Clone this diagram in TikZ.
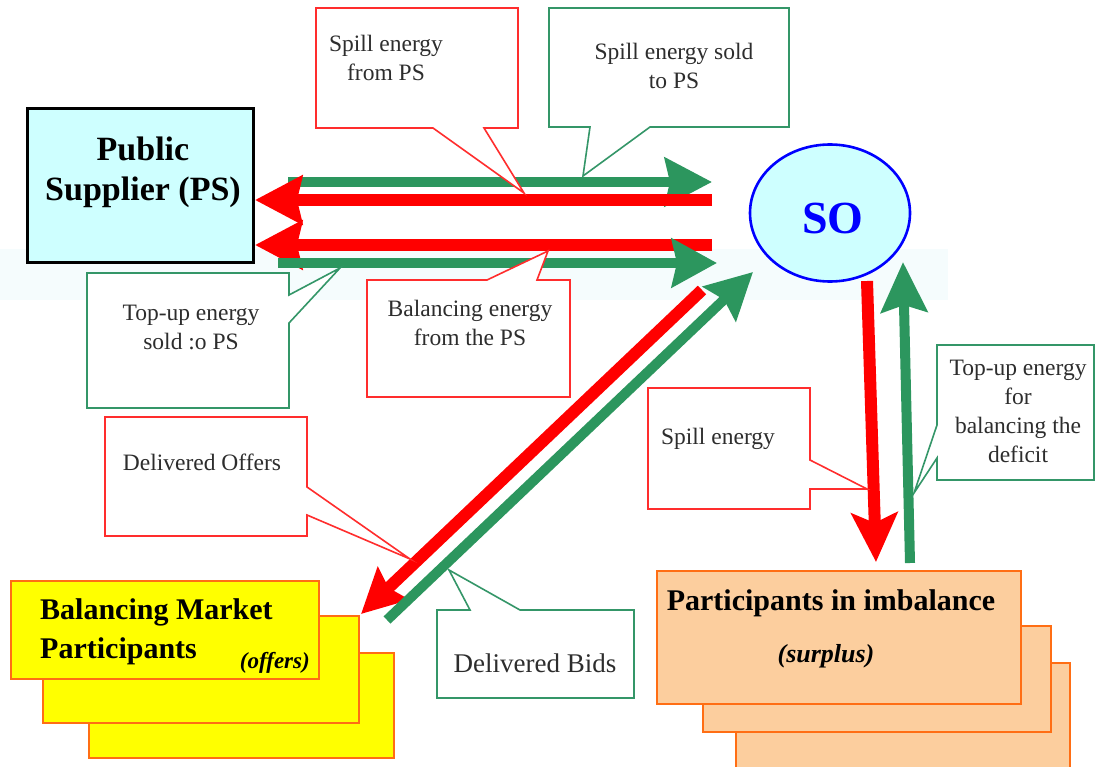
\documentclass[tikz,border=0pt]{standalone}
\usepackage{fontspec}
\setmainfont{Liberation Serif}
\usetikzlibrary{arrows.meta,shapes.geometric,calc}

\definecolor{flowred}{RGB}{255,0,0}
\definecolor{flowgreen}{RGB}{44,150,94}
\definecolor{notered}{RGB}{255,45,45}
\definecolor{notegreen}{RGB}{52,150,104}
\definecolor{pscyan}{RGB}{206,255,255}
\definecolor{soblue}{RGB}{0,0,255}
\definecolor{bmyellow}{RGB}{255,255,0}
\definecolor{edgeorange}{RGB}{255,110,20}
\definecolor{peach}{RGB}{252,206,158}
\definecolor{notetext}{RGB}{45,45,45}
\definecolor{haze}{RGB}{245,252,253}

\tikzset{
  redflow/.style={draw=flowred, line width=12pt,
    -{Stealth[length=47pt,width=48pt,inset=5pt]}},
  greenflow/.style={draw=flowgreen, line width=10pt,
    -{Stealth[length=47pt,width=48pt,inset=5pt]}},
  rednote/.style={draw=notered, line width=1.6pt, fill=white, line join=miter},
  greennote/.style={draw=notegreen, line width=1.6pt, fill=white, line join=miter},
  notetxt/.style={text=notetext, align=center, inner sep=0pt,
    font=\fontsize{23.5}{29}\selectfont},
  ybox/.style={draw=edgeorange, line width=1.8pt, fill=bmyellow, anchor=north west, inner sep=0pt},
  obox/.style={draw=edgeorange, line width=1.8pt, fill=peach, anchor=north west, inner sep=0pt},
}

\begin{document}
\begin{tikzpicture}[x=1pt,y=-1pt]
\useasboundingbox (0,0) rectangle (1097,767);
\fill[white] (0,0) rectangle (1097,767);
% faint band behind the lower arrows
\fill[haze] (0,249) rectangle (948,300);

% ---------- main blocks ----------
\fill[black!85] (29,110) rectangle (255,264);
\node[draw=black, line width=3pt, fill=pscyan, minimum width=226pt, minimum height=154pt,
      anchor=north west, inner sep=0pt] (ps) at (26,107) {};
\node[align=center, inner sep=0pt, font=\bfseries\fontsize{34}{40}\selectfont] (pstext) at (143,172)
  {Public\\Supplier (PS)};

\node[ellipse, draw=soblue, line width=2.6pt, fill=pscyan, minimum width=160pt, minimum height=137pt,
      inner sep=0pt] (so) at (830,213) {};
\node[text=soblue, inner sep=0pt, font=\bfseries\fontsize{46}{50}\selectfont] (sotext) at (833,218) {SO};

% balancing market participants (stacked cards)
\node[ybox, minimum width=305pt, minimum height=105pt] (bm3) at (88,652) {};
\node[ybox, minimum width=316pt, minimum height=107pt] (bm2) at (42,615) {};
\node[ybox, minimum width=308pt, minimum height=98pt] (bm1) at (10,580) {};
\node[anchor=west, align=left, inner sep=0pt, font=\bfseries\fontsize{30}{39}\selectfont] (bmtext) at (40,632)
  {Balancing Market\\Participants};
\node[anchor=east, inner sep=0pt, font=\bfseries\itshape\fontsize{23}{26}\selectfont] (bmoff) at (310,663) {(offers)};

% participants in imbalance (stacked cards)
\node[obox, minimum width=334pt, minimum height=115pt] (pi3) at (735,662) {};
\node[obox, minimum width=348pt, minimum height=106pt] (pi2) at (702,625) {};
\node[obox, minimum width=364pt, minimum height=133pt] (pi1) at (656,570) {};
\node[inner sep=0pt, font=\bfseries\fontsize{30}{34}\selectfont] (pitext) at (831,603) {Participants in imbalance};
\node[inner sep=0pt, font=\bfseries\itshape\fontsize{26}{30}\selectfont] (pisur) at (826,656) {(surplus)};

% ---------- energy flows ----------
\coordinate (rtS) at (712,200);
\coordinate (rbS) at (712,245);
\coordinate (gtS) at (288,182);
\coordinate (gtE) at (712,182);
\coordinate (gbS) at (278,263);
\coordinate (gbE) at (717,263);
\coordinate (rdS) at (702,290);
\coordinate (rdE) at (361,614);
\coordinate (gdS) at (387,620);
\coordinate (gdE) at (753,272);
\coordinate (rvS) at (867,281);
\coordinate (rvE) at (876,562);
\coordinate (gvS) at (910,563);
\coordinate (gvE) at (903,262);

\draw[greenflow] (gtS) -- (gtE);
\draw[redflow] (rtS) -- (rtS -| ps.east);
\draw[redflow] (rbS) -- (rbS -| ps.east);
\draw[greenflow, -{Stealth[length=45pt,width=48pt,inset=5pt]}] (gbS) -- (gbE);
\draw[redflow, -{Stealth[length=44pt,width=44pt,inset=6pt]}] (rdS) -- (rdE);
\draw[greenflow, -{Stealth[length=46pt,width=47pt,inset=6pt]}] (gdS) -- (gdE);
\draw[redflow, -{Stealth[length=49pt,width=46pt,inset=10pt]}] (rvS) -- (rvE);
\draw[greenflow, -{Stealth[length=50pt,width=46pt,inset=7pt]}] (gvS) -- (gvE);

% ---------- callouts ----------
\draw[rednote] (316,8) -- (518,8) -- (518,128) -- (484,128) -- (524,193) -- (433,128) -- (316,128) -- cycle;
\node[notetxt] (n1) at (386,58) {Spill energy\\from PS};

\draw[greennote] (549,8) -- (789,8) -- (789,127) -- (650,127) -- (583,176) -- (590,127) -- (549,127) -- cycle;
\node[notetxt] (n2) at (674,66) {Spill energy sold\\to PS};

\draw[greennote] (87,273) -- (289,273) -- (289,295) -- (340,268) -- (289,323) -- (289,408) -- (87,408) -- cycle;
\node[notetxt] (n3) at (191,327) {Top-up energy\\sold :o PS};

\draw[rednote] (367,280) -- (487,280) -- (548,251) -- (537,280) -- (570,280) -- (570,397) -- (367,397) -- cycle;
\node[notetxt] (n4) at (470,323) {Balancing energy\\from the PS};

\draw[rednote] (105,417) -- (307,417) -- (307,487) -- (410,559) -- (307,515) -- (307,536) -- (105,536) -- cycle;
\node[notetxt] (n5) at (202,462) {Delivered Offers};

\draw[greennote] (437,610) -- (470,610) -- (449,570) -- (520,610) -- (634,610) -- (634,698) -- (437,698) -- cycle;
\node[notetxt, font=\fontsize{27}{32}\selectfont] (n6) at (535,663) {Delivered Bids};

\draw[rednote] (648,388) -- (810,388) -- (810,460) -- (867,489) -- (810,489) -- (810,509) -- (648,509) -- cycle;
\node[notetxt] (n7) at (718,439) {Spill energy};

\draw[greennote] (937,345) -- (1094,345) -- (1094,480) -- (937,480) -- (937,458) -- (914,493) -- (937,425) -- cycle;
\node[notetxt] (n8) at (1018,411) {Top-up energy\\for\\balancing the\\deficit};
\end{tikzpicture}
\end{document}
